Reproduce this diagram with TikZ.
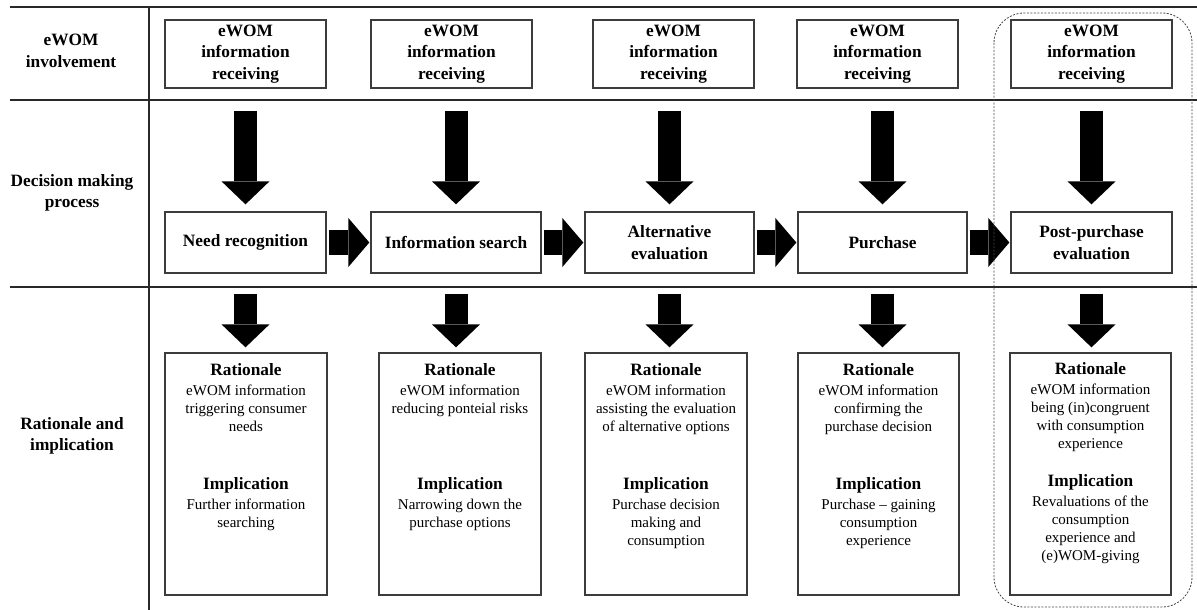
\documentclass[tikz,border=0pt]{standalone}
\usepackage{fontspec}
\setmainfont{Liberation Serif}
\usetikzlibrary{arrows.meta}
\definecolor{linie}{RGB}{40,40,40}
\definecolor{rahmen}{RGB}{60,60,60}
\definecolor{strich}{RGB}{70,70,70}
\newcommand\titel[1]{{\fontsize{17.3}{20}\selectfont\bfseries #1}\\[2pt]}

\begin{document}
\begin{tikzpicture}[x=1pt, y=-1pt,
    kopf/.style={font=\fontsize{17.3}{21.5}\selectfont\bfseries, align=center, inner sep=0pt},
    kasten/.style={draw=rahmen, line width=1.3, align=center, inner sep=0pt, font=\fontsize{17.3}{21.5}\selectfont\bfseries},
    ewom-box/.style={kasten, minimum width=161, minimum height=68},
    stage-box/.style={kasten, minimum height=61},
    grund-box/.style={draw=rahmen, line width=1.3, minimum width=162, minimum height=242, inner sep=0pt},
    grund-text/.style={font=\fontsize{15}{18}\selectfont, align=center, inner sep=0pt, anchor=north},
    blockpfeil/.style={black, line width=23, -{Triangle[length=23pt, width=48pt, line width=0pt]}},
    querpfeil/.style={black, line width=25, -{Triangle[length=21pt, width=49pt, line width=0pt]}, shorten <=2, shorten >=1}]

    \useasboundingbox (0,0) rectangle (1197,610);

    % \draw[help lines] (0,0) grid (1197,610);

    \draw[linie, line width=2] (10,7) -- (1197,7);
    \draw[linie, line width=2] (10,100) -- (1197,100);
    \draw[linie, line width=2] (10,287) -- (1197,287);
    \draw[linie, line width=2] (149,7) -- (149,610);

    \node[kopf] (kopf-ewom) at (71,51) {eWOM\\involvement};
    \node[kopf] (kopf-prozess) at (72,193) {Decision making\\process};
    \node[kopf] (kopf-grund) at (72,436) {Rationale and\\implication};

    \node[ewom-box] (ewom1) at (245.5,54) {eWOM\\information\\receiving};
    \node[ewom-box] (ewom2) at (451.5,54) {eWOM\\information\\receiving};
    \node[ewom-box] (ewom3) at (673.5,54) {eWOM\\information\\receiving};
    \node[ewom-box] (ewom4) at (877.5,54) {eWOM\\information\\receiving};
    \node[ewom-box] (ewom5) at (1091.5,54) {eWOM\\information\\receiving};

    \node[stage-box, minimum width=161] (stage1) at (245.5,242.5) {Need recognition};
    \node[stage-box, minimum width=170] (stage2) at (456,242.5) {Information search};
    \node[stage-box, minimum width=169] (stage3) at (669.5,242.5) {Alternative\\evaluation};
    \node[stage-box, minimum width=169] (stage4) at (882.5,242.5) {Purchase};
    \node[stage-box, minimum width=161] (stage5) at (1091.5,242.5) {Post-purchase\\evaluation};

    \node[grund-box] (grund1) at (246,474) {};
    \node[grund-box] (grund2) at (460,474) {};
    \node[grund-box] (grund3) at (666,474) {};
    \node[grund-box, minimum width=161] (grund4) at (878.5,474) {};
    \node[grund-box, minimum width=161] (grund5) at (1090.5,474) {};

    \node[grund-text] (grund1-r) at (246,363) {\titel{Rationale}eWOM information\\triggering consumer\\needs};
    \node[grund-text] (grund1-i) at (246,477) {\titel{Implication}Further information\\searching};
    \node[grund-text] (grund2-r) at (460,363) {\titel{Rationale}eWOM information\\reducing ponteial risks};
    \node[grund-text] (grund2-i) at (460,477) {\titel{Implication}Narrowing down the\\purchase options};
    \node[grund-text] (grund3-r) at (666,363) {\titel{Rationale}eWOM information\\assisting the evaluation\\of alternative options};
    \node[grund-text] (grund3-i) at (666,477) {\titel{Implication}Purchase decision\\making and\\consumption};
    \node[grund-text] (grund4-r) at (878.5,363) {\titel{Rationale}eWOM information\\confirming the\\purchase decision};
    \node[grund-text] (grund4-i) at (878.5,477) {\titel{Implication}Purchase -- gaining\\consumption\\experience};
    \node[grund-text] (grund5-r) at (1090.5,362) {\titel{Rationale}eWOM information\\being (in)congruent\\with consumption\\experience};
    \node[grund-text] (grund5-i) at (1090.5,474) {\titel{Implication}Revaluations of the\\consumption\\experience and\\(e)WOM-giving};

    \draw[blockpfeil, shorten <=22, shorten >=7] (stage1.north |- ewom1.south) -- (stage1.north);
    \draw[blockpfeil, shorten <=22, shorten >=7] (stage2.north |- ewom2.south) -- (stage2.north);
    \draw[blockpfeil, shorten <=22, shorten >=7] (stage3.north |- ewom3.south) -- (stage3.north);
    \draw[blockpfeil, shorten <=22, shorten >=7] (stage4.north |- ewom4.south) -- (stage4.north);
    \draw[blockpfeil, shorten <=22, shorten >=7] (stage5.north |- ewom5.south) -- (stage5.north);

    \draw[querpfeil] (stage1) -- (stage2);
    \draw[querpfeil] (stage2) -- (stage3);
    \draw[querpfeil] (stage3) -- (stage4);
    \draw[querpfeil] (stage4) -- (stage5);

    \draw[blockpfeil, shorten <=20, shorten >=5] (stage1.south) -- (stage1.south |- grund1.north);
    \draw[blockpfeil, shorten <=20, shorten >=5] (stage2.south) -- (stage2.south |- grund2.north);
    \draw[blockpfeil, shorten <=20, shorten >=5] (stage3.south) -- (stage3.south |- grund3.north);
    \draw[blockpfeil, shorten <=20, shorten >=5] (stage4.south) -- (stage4.south |- grund4.north);
    \draw[blockpfeil, shorten <=20, shorten >=5] (stage5.south) -- (stage5.south |- grund5.north);

    \draw[strich, line width=0.8, dash pattern=on 2pt off 1.5pt, rounded corners=30] (994,13) rectangle (1192,607);

\end{tikzpicture}
\end{document}
